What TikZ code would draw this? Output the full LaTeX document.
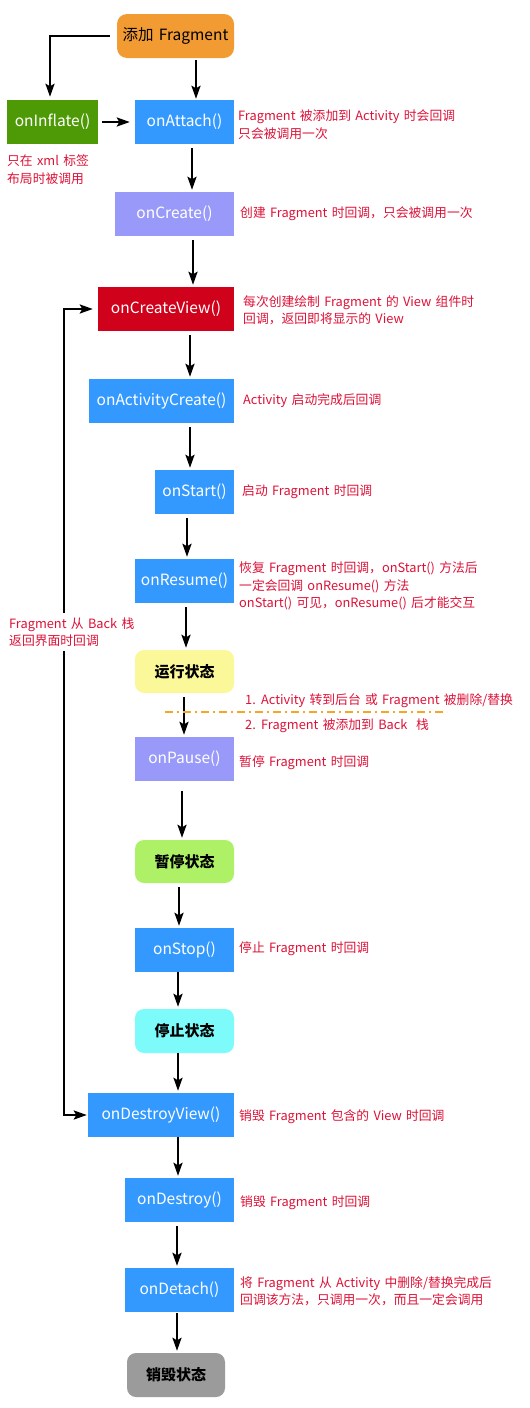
\documentclass[tikz,border=0pt]{standalone}
\usepackage{fontspec}
\setmainfont[WordSpace=1.5]{Noto Sans CJK SC}
\usetikzlibrary{arrows.meta}

\definecolor{addorange}{HTML}{F29B33}
\definecolor{inflategreen}{HTML}{4E9A06}
\definecolor{lifeblue}{HTML}{3399FF}
\definecolor{lavender}{HTML}{9999F9}
\definecolor{viewred}{HTML}{D0021B}
\definecolor{runyellow}{HTML}{FBF89A}
\definecolor{pausegreen}{HTML}{AEF167}
\definecolor{stopcyan}{HTML}{7CFBFA}
\definecolor{deadgray}{HTML}{9B9B9B}
\definecolor{notered}{HTML}{DD1137}
\definecolor{cutorange}{HTML}{F5A623}

\tikzset{
  box/.style={rectangle, minimum height=44pt, inner sep=0pt, text=white,
    font=\fontsize{15.5}{18}\selectfont},
  statebox/.style={box, rounded corners=9pt, text=black,
    font=\fontsize{15}{18}\selectfont\bfseries},
  note/.style={anchor=west, inner sep=0pt, align=left, text=notered,
    font=\fontsize{12.8}{17.5}\selectfont},
  >={Stealth[length=13pt,width=9pt,inset=2.5pt]},
  arr/.style={line width=2.4pt, ->, shorten <=4pt, shorten >=2pt},
  cut/.style={cutorange, line width=1.5pt, dash pattern=on 8pt off 4pt on 2pt off 4pt},
}

\begin{document}
\begin{tikzpicture}[x=1pt,y=-1pt]
\useasboundingbox (0,0) rectangle (530,1408);

\node[box, fill=addorange, rounded corners=10pt, text=black, minimum width=117pt] (add) at (175.5,36) {添加 Fragment};
\node[box, fill=inflategreen, minimum width=91pt] (inflate) at (52.5,122) {onInflate()};
\node[box, fill=lifeblue, minimum width=99pt] (attach) at (184.5,122) {onAttach()};
\node[box, fill=lavender, minimum width=119pt] (create) at (174.5,214) {onCreate()};
\node[box, fill=viewred, minimum width=136pt] (createview) at (166,309) {onCreateView()};
\node[box, fill=lifeblue, minimum width=145pt] (actcreate) at (161.5,401) {onActivityCreate()};
\node[box, fill=lifeblue, minimum width=79pt] (start) at (194.5,492) {onStart()};
\node[box, fill=lifeblue, minimum width=99pt] (resume) at (184.5,581) {onResume()};
\node[statebox, fill=runyellow, minimum width=99pt, minimum height=43pt] (running) at (184.5,671.5) {运行状态};
\node[box, fill=lavender, minimum width=99pt] (pause) at (184.5,759) {onPause()};
\node[statebox, fill=pausegreen, minimum width=99pt, minimum height=43pt] (paused) at (184.5,861.5) {暂停状态};
\node[box, fill=lifeblue, minimum width=99pt] (stop) at (184.5,950) {onStop()};
\node[statebox, fill=stopcyan, minimum width=99pt] (stopped) at (184.5,1031) {停止状态};
\node[box, fill=lifeblue, minimum width=146pt] (destroyview) at (161,1115) {onDestroyView()};
\node[box, fill=lifeblue, minimum width=109pt] (destroy) at (179.5,1200) {onDestroy()};
\node[box, fill=lifeblue, minimum width=109pt] (detach) at (179.5,1290) {onDetach()};
\node[statebox, fill=deadgray, minimum width=98pt] (dead) at (176,1375) {销毁状态};

\node[note] (inflatenote) at (7,169.5) {只在 xml 标签\\布局时被调用};
\node[note] (attachnote) at (238,124.5) {Fragment 被添加到 Activity 时会回调\\只会被调用一次};
\node[note] (createnote) at (240,214) {创建 Fragment 时回调，只会被调用一次};
\node[note] (createviewnote) at (243,310.5) {每次创建绘制 Fragment 的 View 组件时\\回调，返回即将显示的 View};
\node[note] (actcreatenote) at (243,401) {Activity 启动完成后回调};
\node[note] (startnote) at (242,492) {启动 Fragment 时回调};
\node[note] (resumenote) at (239,586) {恢复 Fragment 时回调，onStart() 方法后\\一定会回调 onResume() 方法\\onStart() 可见，onResume() 后才能交互};
\node[note] (cutnote1) at (245,701) {1. Activity 转到后台 或 Fragment 被删除/替换};
\node[note] (cutnote2) at (245,726) {2. Fragment 被添加到 Back\ \ 栈};
\node[note] (pausenote) at (239,763) {暂停 Fragment 时回调};
\node[note] (stopnote) at (239,949) {停止 Fragment 时回调};
\node[note] (destroyviewnote) at (239,1117) {销毁 Fragment 包含的 View 时回调};
\node[note] (destroynote) at (240,1203) {销毁 Fragment 时回调};
\node[note] (detachnote) at (240,1291) {将 Fragment 从 Activity 中删除/替换完成后\\回调该方法，只调用一次，而且一定会调用};

\draw[arr, shorten <=7pt, shorten >=3pt] (add.west) -| (50,0 |- inflate.north);
\draw[arr, shorten >=5pt] (inflate.east) -- (attach.west);
\draw[arr, shorten <=2pt, shorten >=1pt] (196,0 |- add.south) -- (196,0 |- attach.north);
\draw[arr] (192,0 |- attach.south) -- (192,0 |- create.north);
\draw[arr] (193,0 |- create.south) -- (193,0 |- createview.north);
\draw[arr] (190,0 |- createview.south) -- (190,0 |- actcreate.north);
\draw[arr] (190,0 |- actcreate.south) -- (190,0 |- start.north);
\draw[arr] (187,0 |- start.south) -- (187,0 |- resume.north);
\draw[arr] (186,0 |- resume.south) -- (186,0 |- running.north);
\draw[arr] (184,0 |- running.south) -- (184,0 |- pause.north);
\draw[arr, shorten <=10pt] (182,0 |- pause.south) -- (182,0 |- paused.north);
\draw[arr] (179,0 |- paused.south) -- (179,0 |- stop.north);
\draw[arr, shorten <=0pt] (178,0 |- stop.south) -- (178,0 |- stopped.north);
\draw[arr, shorten <=0pt] (178,0 |- stopped.south) -- (178,0 |- destroyview.north);
\draw[arr, shorten <=0pt] (178,0 |- destroyview.south) -- (178,0 |- destroy.north);
\draw[arr] (177,0 |- destroy.south) -- (177,0 |- detach.north);
\draw[arr, shorten <=1pt] (177,0 |- detach.south) -- (177,0 |- dead.north);

\draw[arr, <->, shorten <=5pt, shorten >=1pt] (createview.west) -- (64,0 |- createview.west) -- (64,0 |- destroyview.west) -- (destroyview.west);
\node[note, fill=white, inner ysep=4pt] (backnote) at (9,632) {Fragment 从 Back 栈\\返回界面时回调};

\draw[cut] (165,712) -- (447,712);
\end{tikzpicture}
\end{document}
